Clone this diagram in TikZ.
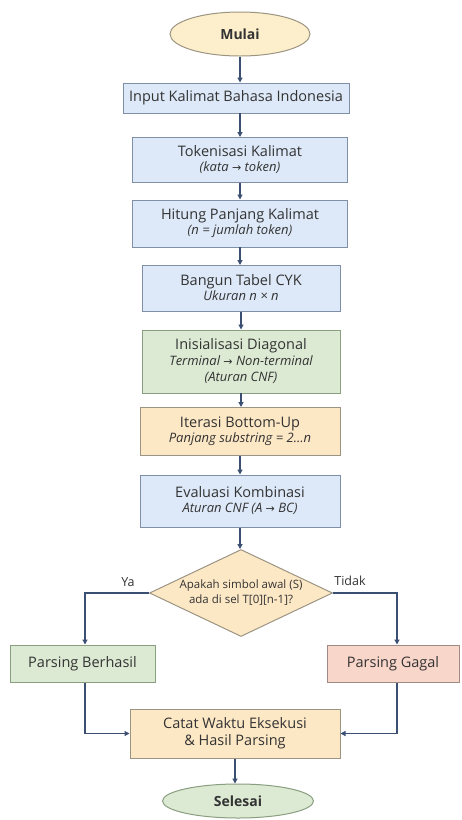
\documentclass[tikz,border=0pt]{standalone}
\usepackage{fontspec}
\setmainfont{Open Sans}
\newfontfamily\symf{DejaVu Sans}
\usetikzlibrary{shapes.geometric,arrows.meta}
\definecolor{bluef}{HTML}{DDE9F8}
\definecolor{blued}{HTML}{7F8FA8}
\definecolor{greenf}{HTML}{DCEAD3}
\definecolor{greend}{HTML}{8A9E80}
\definecolor{yelf}{HTML}{FDEFCC}
\definecolor{orgf}{HTML}{FDE8C6}
\definecolor{yeld}{HTML}{9C9482}
\definecolor{redf}{HTML}{F9D6CA}
\definecolor{redd}{HTML}{A08A86}
\definecolor{arr}{HTML}{3A4F72}
\definecolor{txt}{HTML}{333333}
\newcommand{\ar}{{\symf\fontsize{11}{13}\selectfont →}}
\newcommand{\subt}{\itshape\fontsize{13}{14.5}\selectfont}
\tikzset{
  box/.style={rectangle, draw=blued, fill=bluef, line width=1pt, align=center, inner sep=0pt, text=txt, font=\fontsize{14.5}{17}\selectfont},
  gbox/.style={box, draw=greend, fill=greenf},
  obox/.style={box, draw=yeld, fill=orgf},
  rbox/.style={box, draw=redd, fill=redf},
  term/.style={ellipse, draw=yeld, fill=yelf, line width=1pt, inner sep=0pt, text=txt, font=\fontsize{14}{16}\selectfont\bfseries},
  dec/.style={diamond, draw=yeld, fill=orgf, line width=1pt, inner sep=0pt, align=center, text=txt, font=\fontsize{11.5}{15}\selectfont},
  flow/.style={draw=arr, line width=1.2pt, -{Triangle[length=5pt,width=5pt]}},
  lbl/.style={text=txt, font=\fontsize{12.5}{14}\selectfont}
}
\begin{document}
\begin{tikzpicture}[x=1pt,y=-1pt]
\useasboundingbox[fill=white] (0,0) rectangle (462,820);
\node[term, minimum width=140pt, minimum height=44pt] (mulai) at (240,34) {Mulai};
\node[box, minimum width=226pt, minimum height=30pt] (input) at (236,98) {Input Kalimat Bahasa Indonesia};
\node[box, minimum width=215pt, minimum height=45pt] (tok) at (240,159.5) {Tokenisasi Kalimat\\[-2pt]{\subt (kata \ar\ token)}};
\node[box, minimum width=215pt, minimum height=47pt] (hit) at (240,223.5) {Hitung Panjang Kalimat\\[-2pt]{\subt (n = jumlah token)}};
\node[box, minimum width=198pt, minimum height=46pt] (bang) at (241,288) {Bangun Tabel CYK\\[-2pt]{\subt Ukuran n × n}};
\node[gbox, minimum width=198pt, minimum height=63pt] (inis) at (241,361.5) {Inisialisasi Diagonal\\[-1pt]{\subt Terminal \ar\ Non-terminal}\\[-1pt]{\subt (Aturan CNF)}};
\node[obox, minimum width=200pt, minimum height=48pt] (iter) at (240,431) {Iterasi Bottom-Up\\[-2pt]{\subt Panjang substring = 2…n}};
\node[box, minimum width=200pt, minimum height=52pt] (eval) at (240,501) {Evaluasi Kombinasi\\[-2pt]{\subt Aturan CNF (A \ar\ BC)}};
\node[dec, minimum width=183pt, minimum height=87pt, aspect=2.1] (dec) at (241,593) {Apakah simbol awal (S)\\ada di sel T[0][n-1]?};
\node[gbox, minimum width=145pt, minimum height=37pt] (ok) at (82.5,663.5) {Parsing Berhasil};
\node[rbox, minimum width=132pt, minimum height=37pt] (fail) at (393,663.5) {Parsing Gagal};
\node[obox, minimum width=210pt, minimum height=49pt] (catat) at (235,733.5) {Catat Waktu Eksekusi\\\& Hasil Parsing};
\node[term, draw=greend, fill=greenf, minimum width=151pt, minimum height=34pt] (sel) at (238,801) {Selesai};
\coordinate (lc) at (85,593);
\coordinate (rc) at (397,593);
\draw[flow] (mulai.south) -- (mulai.south |- input.north);
\draw[flow] (240,113) -- (240,137);
\draw[flow] (tok.south) -- (tok.south |- hit.north);
\draw[flow] (240,247) -- (240,265);
\draw[flow] (bang.south) -- (bang.south |- inis.north);
\draw[flow] (241,393) -- (241,407);
\draw[flow] (iter.south) -- (iter.south |- eval.north);
\draw[flow] (eval.south) -- (eval.south |- dec.north);
\draw[flow] (dec.west) -- (lc) -- (lc |- ok.north);
\draw[flow] (dec.east) -- (rc) -- (rc |- fail.north);
\draw[flow] (lc |- ok.south) |- (catat.west);
\draw[flow] (rc |- fail.south) |- (catat.east);
\draw[flow] (catat.south) -- (catat.south |- sel.north);
\node[lbl] (ya) at (128,582) {Ya};
\node[lbl] (tidak) at (350,581) {Tidak};
\end{tikzpicture}
\end{document}
